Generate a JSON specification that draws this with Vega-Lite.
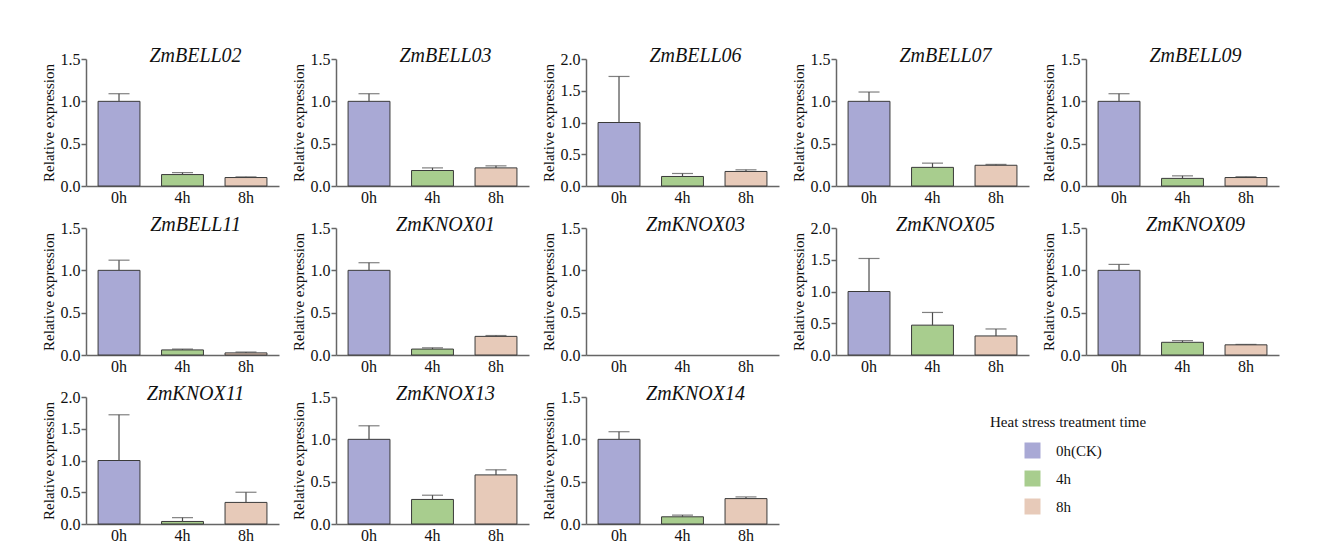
{
  "$schema": "https://vega.github.io/schema/vega-lite/v6.json",
  "background": "white",
  "padding": {"left": 40, "top": 46, "right": 10, "bottom": 5},
  "datasets": {
    "expr": [
      {"gene": "ZmBELL02", "time": "0h", "expression": 1.0, "upper": 1.09},
      {"gene": "ZmBELL02", "time": "4h", "expression": 0.135, "upper": 0.158},
      {"gene": "ZmBELL02", "time": "8h", "expression": 0.10, "upper": 0.108},
      {"gene": "ZmBELL03", "time": "0h", "expression": 1.0, "upper": 1.09},
      {"gene": "ZmBELL03", "time": "4h", "expression": 0.183, "upper": 0.214},
      {"gene": "ZmBELL03", "time": "8h", "expression": 0.214, "upper": 0.238},
      {"gene": "ZmBELL06", "time": "0h", "expression": 1.0, "upper": 1.725},
      {"gene": "ZmBELL06", "time": "4h", "expression": 0.15, "upper": 0.197},
      {"gene": "ZmBELL06", "time": "8h", "expression": 0.229, "upper": 0.255},
      {"gene": "ZmBELL07", "time": "0h", "expression": 1.0, "upper": 1.11},
      {"gene": "ZmBELL07", "time": "4h", "expression": 0.22, "upper": 0.27},
      {"gene": "ZmBELL07", "time": "8h", "expression": 0.245, "upper": 0.255},
      {"gene": "ZmBELL09", "time": "0h", "expression": 1.0, "upper": 1.09},
      {"gene": "ZmBELL09", "time": "4h", "expression": 0.09, "upper": 0.12},
      {"gene": "ZmBELL09", "time": "8h", "expression": 0.10, "upper": 0.11},
      {"gene": "ZmBELL11", "time": "0h", "expression": 1.0, "upper": 1.12},
      {"gene": "ZmBELL11", "time": "4h", "expression": 0.06, "upper": 0.07},
      {"gene": "ZmBELL11", "time": "8h", "expression": 0.025, "upper": 0.035},
      {"gene": "ZmKNOX01", "time": "0h", "expression": 1.0, "upper": 1.09},
      {"gene": "ZmKNOX01", "time": "4h", "expression": 0.07, "upper": 0.085},
      {"gene": "ZmKNOX01", "time": "8h", "expression": 0.22, "upper": 0.23},
      {"gene": "ZmKNOX03", "time": "0h", "expression": null, "upper": null},
      {"gene": "ZmKNOX03", "time": "4h", "expression": null, "upper": null},
      {"gene": "ZmKNOX03", "time": "8h", "expression": null, "upper": null},
      {"gene": "ZmKNOX05", "time": "0h", "expression": 1.0, "upper": 1.52},
      {"gene": "ZmKNOX05", "time": "4h", "expression": 0.47, "upper": 0.67},
      {"gene": "ZmKNOX05", "time": "8h", "expression": 0.30, "upper": 0.41},
      {"gene": "ZmKNOX09", "time": "0h", "expression": 1.0, "upper": 1.07},
      {"gene": "ZmKNOX09", "time": "4h", "expression": 0.15, "upper": 0.17},
      {"gene": "ZmKNOX09", "time": "8h", "expression": 0.12, "upper": 0.125},
      {"gene": "ZmKNOX11", "time": "0h", "expression": 1.0, "upper": 1.72},
      {"gene": "ZmKNOX11", "time": "4h", "expression": 0.04, "upper": 0.10},
      {"gene": "ZmKNOX11", "time": "8h", "expression": 0.34, "upper": 0.50},
      {"gene": "ZmKNOX13", "time": "0h", "expression": 1.0, "upper": 1.16},
      {"gene": "ZmKNOX13", "time": "4h", "expression": 0.29, "upper": 0.34},
      {"gene": "ZmKNOX13", "time": "8h", "expression": 0.58, "upper": 0.64},
      {"gene": "ZmKNOX14", "time": "0h", "expression": 1.0, "upper": 1.09},
      {"gene": "ZmKNOX14", "time": "4h", "expression": 0.085, "upper": 0.105},
      {"gene": "ZmKNOX14", "time": "8h", "expression": 0.30, "upper": 0.32}
    ]
  },
  "data": {"name": "expr"},
  "bounds": "flush",
  "columns": 5,
  "spacing": {"row": 42, "column": 57},
  "concat": [
    {"title": "ZmBELL02", "transform": [{"filter": "datum.gene === 'ZmBELL02'"}], "width": 193, "height": 127,
     "encoding": {"x": {"field": "time", "type": "nominal", "scale": {"domain": ["0h", "4h", "8h"]}}},
     "layer": [
       {"mark": "bar", "encoding": {"y": {"field": "expression", "type": "quantitative", "scale": {"domain": [0, 1.5], "nice": false}, "title": "Relative expression"}, "color": {"field": "time", "type": "nominal", "title": "Heat stress treatment time", "legend": {"labelExpr": "datum.label == '0h' ? '0h(CK)' : datum.label"}}}},
       {"mark": "rule", "encoding": {"y": {"field": "expression", "type": "quantitative"}, "y2": {"field": "upper"}}},
       {"mark": "tick", "encoding": {"y": {"field": "upper", "type": "quantitative"}}}
     ]},
    {"title": "ZmBELL03", "transform": [{"filter": "datum.gene === 'ZmBELL03'"}], "width": 193, "height": 127,
     "encoding": {"x": {"field": "time", "type": "nominal", "scale": {"domain": ["0h", "4h", "8h"]}}},
     "layer": [
       {"mark": "bar", "encoding": {"y": {"field": "expression", "type": "quantitative", "scale": {"domain": [0, 1.5], "nice": false}, "title": "Relative expression"}, "color": {"field": "time", "type": "nominal", "title": "Heat stress treatment time"}}},
       {"mark": "rule", "encoding": {"y": {"field": "expression", "type": "quantitative"}, "y2": {"field": "upper"}}},
       {"mark": "tick", "encoding": {"y": {"field": "upper", "type": "quantitative"}}}
     ]},
    {"title": "ZmBELL06", "transform": [{"filter": "datum.gene === 'ZmBELL06'"}], "width": 193, "height": 127,
     "encoding": {"x": {"field": "time", "type": "nominal", "scale": {"domain": ["0h", "4h", "8h"]}}},
     "layer": [
       {"mark": "bar", "encoding": {"y": {"field": "expression", "type": "quantitative", "scale": {"domain": [0, 2], "nice": false}, "title": "Relative expression"}, "color": {"field": "time", "type": "nominal", "title": "Heat stress treatment time"}}},
       {"mark": "rule", "encoding": {"y": {"field": "expression", "type": "quantitative"}, "y2": {"field": "upper"}}},
       {"mark": "tick", "encoding": {"y": {"field": "upper", "type": "quantitative"}}}
     ]},
    {"title": "ZmBELL07", "transform": [{"filter": "datum.gene === 'ZmBELL07'"}], "width": 193, "height": 127,
     "encoding": {"x": {"field": "time", "type": "nominal", "scale": {"domain": ["0h", "4h", "8h"]}}},
     "layer": [
       {"mark": "bar", "encoding": {"y": {"field": "expression", "type": "quantitative", "scale": {"domain": [0, 1.5], "nice": false}, "title": "Relative expression"}, "color": {"field": "time", "type": "nominal", "title": "Heat stress treatment time"}}},
       {"mark": "rule", "encoding": {"y": {"field": "expression", "type": "quantitative"}, "y2": {"field": "upper"}}},
       {"mark": "tick", "encoding": {"y": {"field": "upper", "type": "quantitative"}}}
     ]},
    {"title": "ZmBELL09", "transform": [{"filter": "datum.gene === 'ZmBELL09'"}], "width": 193, "height": 127,
     "encoding": {"x": {"field": "time", "type": "nominal", "scale": {"domain": ["0h", "4h", "8h"]}}},
     "layer": [
       {"mark": "bar", "encoding": {"y": {"field": "expression", "type": "quantitative", "scale": {"domain": [0, 1.5], "nice": false}, "title": "Relative expression"}, "color": {"field": "time", "type": "nominal", "title": "Heat stress treatment time"}}},
       {"mark": "rule", "encoding": {"y": {"field": "expression", "type": "quantitative"}, "y2": {"field": "upper"}}},
       {"mark": "tick", "encoding": {"y": {"field": "upper", "type": "quantitative"}}}
     ]},
    {"title": "ZmBELL11", "transform": [{"filter": "datum.gene === 'ZmBELL11'"}], "width": 193, "height": 127,
     "encoding": {"x": {"field": "time", "type": "nominal", "scale": {"domain": ["0h", "4h", "8h"]}}},
     "layer": [
       {"mark": "bar", "encoding": {"y": {"field": "expression", "type": "quantitative", "scale": {"domain": [0, 1.5], "nice": false}, "title": "Relative expression"}, "color": {"field": "time", "type": "nominal", "title": "Heat stress treatment time"}}},
       {"mark": "rule", "encoding": {"y": {"field": "expression", "type": "quantitative"}, "y2": {"field": "upper"}}},
       {"mark": "tick", "encoding": {"y": {"field": "upper", "type": "quantitative"}}}
     ]},
    {"title": "ZmKNOX01", "transform": [{"filter": "datum.gene === 'ZmKNOX01'"}], "width": 193, "height": 127,
     "encoding": {"x": {"field": "time", "type": "nominal", "scale": {"domain": ["0h", "4h", "8h"]}}},
     "layer": [
       {"mark": "bar", "encoding": {"y": {"field": "expression", "type": "quantitative", "scale": {"domain": [0, 1.5], "nice": false}, "title": "Relative expression"}, "color": {"field": "time", "type": "nominal", "title": "Heat stress treatment time"}}},
       {"mark": "rule", "encoding": {"y": {"field": "expression", "type": "quantitative"}, "y2": {"field": "upper"}}},
       {"mark": "tick", "encoding": {"y": {"field": "upper", "type": "quantitative"}}}
     ]},
    {"title": "ZmKNOX03", "transform": [{"filter": "datum.gene === 'ZmKNOX03'"}], "width": 193, "height": 127,
     "encoding": {"x": {"field": "time", "type": "nominal", "scale": {"domain": ["0h", "4h", "8h"]}}},
     "layer": [
       {"mark": "bar", "encoding": {"y": {"field": "expression", "type": "quantitative", "scale": {"domain": [0, 1.5], "nice": false}, "title": "Relative expression"}, "color": {"field": "time", "type": "nominal", "title": "Heat stress treatment time"}}},
       {"mark": "rule", "encoding": {"y": {"field": "expression", "type": "quantitative"}, "y2": {"field": "upper"}}},
       {"mark": "tick", "encoding": {"y": {"field": "upper", "type": "quantitative"}}}
     ]},
    {"title": "ZmKNOX05", "transform": [{"filter": "datum.gene === 'ZmKNOX05'"}], "width": 193, "height": 127,
     "encoding": {"x": {"field": "time", "type": "nominal", "scale": {"domain": ["0h", "4h", "8h"]}}},
     "layer": [
       {"mark": "bar", "encoding": {"y": {"field": "expression", "type": "quantitative", "scale": {"domain": [0, 2], "nice": false}, "title": "Relative expression"}, "color": {"field": "time", "type": "nominal", "title": "Heat stress treatment time"}}},
       {"mark": "rule", "encoding": {"y": {"field": "expression", "type": "quantitative"}, "y2": {"field": "upper"}}},
       {"mark": "tick", "encoding": {"y": {"field": "upper", "type": "quantitative"}}}
     ]},
    {"title": "ZmKNOX09", "transform": [{"filter": "datum.gene === 'ZmKNOX09'"}], "width": 193, "height": 127,
     "encoding": {"x": {"field": "time", "type": "nominal", "scale": {"domain": ["0h", "4h", "8h"]}}},
     "layer": [
       {"mark": "bar", "encoding": {"y": {"field": "expression", "type": "quantitative", "scale": {"domain": [0, 1.5], "nice": false}, "title": "Relative expression"}, "color": {"field": "time", "type": "nominal", "title": "Heat stress treatment time"}}},
       {"mark": "rule", "encoding": {"y": {"field": "expression", "type": "quantitative"}, "y2": {"field": "upper"}}},
       {"mark": "tick", "encoding": {"y": {"field": "upper", "type": "quantitative"}}}
     ]},
    {"title": "ZmKNOX11", "transform": [{"filter": "datum.gene === 'ZmKNOX11'"}], "width": 193, "height": 127,
     "encoding": {"x": {"field": "time", "type": "nominal", "scale": {"domain": ["0h", "4h", "8h"]}}},
     "layer": [
       {"mark": "bar", "encoding": {"y": {"field": "expression", "type": "quantitative", "scale": {"domain": [0, 2], "nice": false}, "title": "Relative expression"}, "color": {"field": "time", "type": "nominal", "title": "Heat stress treatment time"}}},
       {"mark": "rule", "encoding": {"y": {"field": "expression", "type": "quantitative"}, "y2": {"field": "upper"}}},
       {"mark": "tick", "encoding": {"y": {"field": "upper", "type": "quantitative"}}}
     ]},
    {"title": "ZmKNOX13", "transform": [{"filter": "datum.gene === 'ZmKNOX13'"}], "width": 193, "height": 127,
     "encoding": {"x": {"field": "time", "type": "nominal", "scale": {"domain": ["0h", "4h", "8h"]}}},
     "layer": [
       {"mark": "bar", "encoding": {"y": {"field": "expression", "type": "quantitative", "scale": {"domain": [0, 1.5], "nice": false}, "title": "Relative expression"}, "color": {"field": "time", "type": "nominal", "title": "Heat stress treatment time"}}},
       {"mark": "rule", "encoding": {"y": {"field": "expression", "type": "quantitative"}, "y2": {"field": "upper"}}},
       {"mark": "tick", "encoding": {"y": {"field": "upper", "type": "quantitative"}}}
     ]},
    {"title": "ZmKNOX14", "transform": [{"filter": "datum.gene === 'ZmKNOX14'"}], "width": 193, "height": 127,
     "encoding": {"x": {"field": "time", "type": "nominal", "scale": {"domain": ["0h", "4h", "8h"]}}},
     "layer": [
       {"mark": "bar", "encoding": {"y": {"field": "expression", "type": "quantitative", "scale": {"domain": [0, 1.5], "nice": false}, "title": "Relative expression"}, "color": {"field": "time", "type": "nominal", "title": "Heat stress treatment time"}}},
       {"mark": "rule", "encoding": {"y": {"field": "expression", "type": "quantitative"}, "y2": {"field": "upper"}}},
       {"mark": "tick", "encoding": {"y": {"field": "upper", "type": "quantitative"}}}
     ]}
  ],
  "config": {
    "font": "Liberation Serif",
    "view": {"stroke": null},
    "range": {"category": ["#a9a9d5", "#a8cd8e", "#e7cab9"]},
    "scale": {"bandPaddingInner": 0.34, "bandPaddingOuter": 0.19},
    "bar": {"stroke": "#3a3a3a", "strokeWidth": 1},
    "rule": {"color": "#4a4a4a", "strokeWidth": 1.2},
    "tick": {"color": "#4a4a4a", "thickness": 1.2, "size": 21},
    "style": {
      "guide-label": {"font": "Liberation Serif"},
      "guide-title": {"font": "Liberation Serif"},
      "group-title": {"font": "Liberation Serif"}
    },
    "title": {"font": "Liberation Serif", "fontSize": 20, "fontStyle": "italic", "fontWeight": "normal", "color": "#111", "offset": -15, "anchor": "middle", "dx": 13},
    "axis": {
      "grid": false,
      "domainColor": "#666",
      "domainWidth": 1.5,
      "tickColor": "#666",
      "tickWidth": 1.5,
      "tickSize": 5,
      "labelFont": "Liberation Serif",
      "labelFontSize": 16,
      "labelColor": "#111",
      "titleFont": "Liberation Serif",
      "titleFontSize": 15,
      "titleFontWeight": "normal",
      "titleColor": "#111"
    },
    "axisX": {"ticks": false, "labelAngle": 0, "title": null, "labelPadding": 3},
    "axisY": {"tickCount": 4, "format": ".1f", "labelPadding": 1, "titlePadding": 4},
    "legend": {
      "orient": "none",
      "legendX": 904,
      "legendY": 356,
      "titleFont": "Liberation Serif",
      "titleFontSize": 15,
      "titleFontWeight": "normal",
      "titleColor": "#111",
      "titlePadding": 12,
      "labelFont": "Liberation Serif",
      "labelFontSize": 15,
      "labelColor": "#111",
      "symbolType": "square",
      "symbolSize": 256,
      "symbolStrokeColor": "transparent",
      "symbolStrokeWidth": 0,
      "symbolOpacity": 1,
      "symbolOffset": 34,
      "labelOffset": 15,
      "rowPadding": 7
    }
  },
  "resolve": {"scale": {"y": "independent"}}
}
